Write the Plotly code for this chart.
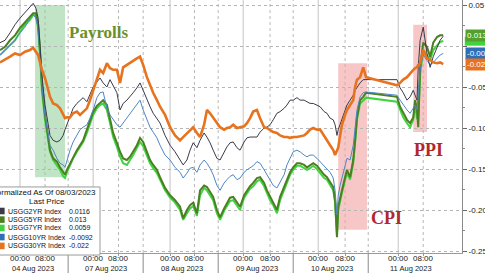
import plotly.graph_objects as go

# ---------------- data ----------------
# time axis: hours of the session timeline (session starts ~17:00 of the previous day)
hours = [0.6, 2.2, 3.8, 5.4, 7.0, 8.6, 10.2, 11.2, 12.1, 12.8,
         13.4, 14.0, 15.0, 16.0, 16.6, 17.6, 18.8, 19.8, 20.8, 21.4,
         22.0, 23.0, 24.0, 25.2, 26.2, 27.2, 28.4, 29.4, 30.4, 31.6,
         32.6, 33.6, 34.8, 35.8, 36.8, 38.0, 39.0, 40.0, 41.2, 42.2,
         43.2, 44.4, 45.4, 46.4, 47.6, 48.6, 49.6, 50.8, 51.8, 53.4,
         55.0, 56.6, 58.2, 59.2, 60.4, 61.4, 62.4, 63.6, 64.6, 65.9,
         66.8, 67.8, 68.8, 70.0, 71.0, 72.3, 73.2, 74.2, 75.2, 76.4,
         77.4, 78.7, 79.6, 80.6, 81.6, 82.8, 83.8, 85.1, 86.0, 87.0,
         88.0, 89.2, 90.2, 91.5, 92.4, 93.4, 94.4, 95.6, 96.6, 97.9,
         98.8, 99.8, 100.8, 102.0, 103.0, 104.3, 105.2, 106.2, 107.2, 107.8,
         108.4, 108.8, 109.4, 110.0, 111.0, 111.6, 112.6, 113.6, 114.2, 114.8,
         115.8, 116.8, 117.7, 127.6, 128.6, 129.6, 130.8, 131.8, 132.8, 133.4,
         134.0, 134.4, 135.0, 136.0, 137.2, 138.2, 139.2, 140.4, 141.4, 142.4]

usgg2yr = [0.004, 0.007, 0.016, 0.026, 0.034, 0.041, 0.049, 0.052, 0.046, 0.034,
           0.001, -0.035, -0.072, -0.096, -0.109, -0.115, -0.117, -0.115, -0.109, -0.102,
           -0.096, -0.084, -0.076, -0.070, -0.066, -0.063, -0.068, -0.060, -0.050, -0.044,
           -0.039, -0.045, -0.050, -0.041, -0.048, -0.057, -0.078, -0.070, -0.066, -0.062,
           -0.057, -0.051, -0.045, -0.054, -0.066, -0.074, -0.082, -0.088, -0.094, -0.109,
           -0.121, -0.129, -0.139, -0.145, -0.139, -0.127, -0.118, -0.124, -0.115, -0.106,
           -0.111, -0.118, -0.127, -0.137, -0.139, -0.129, -0.123, -0.118, -0.117, -0.124,
           -0.127, -0.117, -0.112, -0.111, -0.111, -0.111, -0.105, -0.100, -0.099, -0.096,
           -0.090, -0.082, -0.080, -0.076, -0.072, -0.066, -0.066, -0.063, -0.066, -0.066,
           -0.068, -0.070, -0.070, -0.072, -0.074, -0.080, -0.082, -0.088, -0.090, -0.096,
           -0.109, -0.102, -0.096, -0.088, -0.078, -0.072, -0.066, -0.060, -0.054, -0.050,
           -0.045, -0.041, -0.041, -0.041, -0.051, -0.057, -0.066, -0.062, -0.054, -0.060,
           -0.066, -0.026, 0.007, 0.023, -0.009, -0.026, -0.013, -0.002, 0.007, 0.012]

usgg5yr = [-0.005, -0.001, 0.007, 0.013, 0.022, 0.029, 0.035, 0.040, 0.040, 0.026,
           -0.005, -0.048, -0.084, -0.115, -0.127, -0.137, -0.141, -0.148, -0.154, -0.157,
           -0.151, -0.143, -0.135, -0.127, -0.121, -0.115, -0.102, -0.090, -0.080, -0.073,
           -0.070, -0.066, -0.072, -0.090, -0.106, -0.118, -0.129, -0.137, -0.139, -0.135,
           -0.129, -0.121, -0.112, -0.117, -0.129, -0.139, -0.145, -0.151, -0.160, -0.173,
           -0.182, -0.188, -0.196, -0.210, -0.200, -0.194, -0.191, -0.204, -0.176, -0.170,
           -0.172, -0.178, -0.184, -0.200, -0.209, -0.198, -0.191, -0.185, -0.184, -0.191,
           -0.196, -0.182, -0.176, -0.171, -0.167, -0.161, -0.160, -0.167, -0.176, -0.184,
           -0.190, -0.200, -0.184, -0.172, -0.163, -0.154, -0.148, -0.143, -0.143, -0.145,
           -0.148, -0.145, -0.143, -0.146, -0.151, -0.157, -0.160, -0.166, -0.172, -0.188,
           -0.233, -0.196, -0.184, -0.176, -0.160, -0.151, -0.160, -0.139, -0.115, -0.087,
           -0.066, -0.062, -0.057, -0.062, -0.074, -0.082, -0.090, -0.094, -0.087, -0.066,
           -0.078, -0.099, -0.026, 0.004, -0.001, -0.013, 0.004, 0.011, 0.013, 0.013]

usgg7yr = [-0.011, -0.005, 0.001, 0.007, 0.017, 0.026, 0.032, 0.038, 0.037, 0.022,
           -0.011, -0.054, -0.090, -0.117, -0.129, -0.139, -0.145, -0.151, -0.159, -0.161,
           -0.154, -0.145, -0.137, -0.129, -0.123, -0.117, -0.106, -0.094, -0.084, -0.076,
           -0.072, -0.070, -0.078, -0.094, -0.111, -0.123, -0.135, -0.143, -0.145, -0.139,
           -0.133, -0.124, -0.117, -0.122, -0.134, -0.143, -0.149, -0.155, -0.163, -0.176,
           -0.185, -0.191, -0.200, -0.212, -0.204, -0.198, -0.195, -0.207, -0.182, -0.173,
           -0.176, -0.182, -0.188, -0.204, -0.212, -0.201, -0.195, -0.189, -0.188, -0.195,
           -0.200, -0.185, -0.179, -0.174, -0.171, -0.165, -0.163, -0.171, -0.179, -0.188,
           -0.194, -0.204, -0.188, -0.176, -0.167, -0.157, -0.151, -0.146, -0.146, -0.149,
           -0.151, -0.149, -0.146, -0.150, -0.155, -0.161, -0.163, -0.170, -0.176, -0.191,
           -0.230, -0.200, -0.188, -0.179, -0.163, -0.155, -0.163, -0.143, -0.118, -0.090,
           -0.070, -0.066, -0.063, -0.068, -0.078, -0.087, -0.094, -0.099, -0.090, -0.072,
           -0.088, -0.090, -0.035, -0.005, -0.011, -0.017, -0.005, 0.001, 0.005, 0.006]

usgg10yr = [-0.011, -0.005, 0.001, 0.007, 0.016, 0.023, 0.034, 0.038, 0.034, 0.022,
            -0.011, -0.048, -0.084, -0.109, -0.121, -0.127, -0.137, -0.143, -0.145, -0.148,
            -0.139, -0.127, -0.117, -0.109, -0.102, -0.099, -0.096, -0.088, -0.078, -0.063,
            -0.057, -0.056, -0.076, -0.084, -0.090, -0.096, -0.099, -0.094, -0.088, -0.082,
            -0.078, -0.072, -0.066, -0.078, -0.090, -0.099, -0.105, -0.112, -0.121, -0.133,
            -0.139, -0.148, -0.154, -0.161, -0.155, -0.149, -0.148, -0.154, -0.145, -0.139,
            -0.143, -0.149, -0.157, -0.170, -0.176, -0.167, -0.163, -0.159, -0.157, -0.163,
            -0.161, -0.154, -0.151, -0.149, -0.146, -0.141, -0.143, -0.151, -0.157, -0.163,
            -0.170, -0.173, -0.166, -0.157, -0.145, -0.137, -0.129, -0.127, -0.129, -0.133,
            -0.135, -0.133, -0.133, -0.137, -0.141, -0.146, -0.149, -0.154, -0.161, -0.176,
            -0.206, -0.182, -0.170, -0.161, -0.145, -0.137, -0.139, -0.121, -0.100, -0.078,
            -0.062, -0.057, -0.056, -0.060, -0.066, -0.072, -0.078, -0.082, -0.076, -0.072,
            -0.078, -0.054, -0.029, -0.011, -0.017, -0.023, -0.020, -0.015, -0.011, -0.009]

usgg30yr = [-0.020, -0.017, -0.013, -0.009, -0.011, -0.007, -0.005, -0.002, -0.007, -0.011,
            -0.020, -0.029, -0.039, -0.054, -0.062, -0.070, -0.072, -0.076, -0.084, -0.088,
            -0.087, -0.087, -0.082, -0.080, -0.084, -0.080, -0.076, -0.066, -0.054, -0.041,
            -0.029, -0.033, -0.021, -0.027, -0.029, -0.029, -0.045, -0.026, -0.023, -0.020,
            -0.017, -0.015, -0.013, -0.023, -0.038, -0.048, -0.057, -0.066, -0.074, -0.084,
            -0.099, -0.109, -0.115, -0.111, -0.106, -0.102, -0.099, -0.106, -0.111, -0.096,
            -0.078, -0.082, -0.087, -0.093, -0.099, -0.102, -0.100, -0.099, -0.096, -0.100,
            -0.099, -0.098, -0.094, -0.088, -0.080, -0.078, -0.088, -0.099, -0.100, -0.102,
            -0.105, -0.106, -0.109, -0.111, -0.111, -0.112, -0.111, -0.111, -0.110, -0.109,
            -0.106, -0.102, -0.100, -0.102, -0.102, -0.109, -0.115, -0.121, -0.127, -0.133,
            -0.127, -0.124, -0.109, -0.096, -0.084, -0.078, -0.072, -0.066, -0.050, -0.041,
            -0.038, -0.026, -0.038, -0.048, -0.045, -0.041, -0.038, -0.033, -0.029, -0.027,
            -0.026, -0.023, -0.021, -0.005, -0.015, -0.017, -0.020, -0.021, -0.020, -0.022]

series_names = ["USGG2YR Index", "USGG5YR Index", "USGG7YR Index", "USGG10YR Index", "USGG30YR Index"]
last_prices = ["0.0116", "0.013", "0.0059", "-0.0092", "-0.022"]
last_values = [0.0116, 0.013, 0.0059, -0.0092, -0.022]

# x axis ticks (session hours)
midnight_hours = [7.0, 30.4, 55.0, 78.4, 102.4, 128.0]
eight_hours = [15.0, 38.5, 62.8, 87.0, 111.0, 136.0]
session_breaks = [22.4, 46.4, 70.4, 94.4, 118.4]
day_labels = ["04 Aug 2023", "07 Aug 2023", "08 Aug 2023", "09 Aug 2023", "10 Aug 2023", "11 Aug 2023"]

# right axis ticks (the 0.00 label is hidden behind the value tags in the original)
y_ticks = [0.05, 0.0, -0.05, -0.10, -0.15, -0.20, -0.25]
y_ticktext = ["0.05", "", "-0.05", "-0.10", "-0.15", "-0.20", "-0.25"]

# event windows: label, start hour, end hour, low, high
event_names = ["Payrolls", "CPI", "PPI"]
event_start = [11.8, 108.8, 132.8]
event_end = [21.4, 118.0, 137.2]
event_low = [-0.160, -0.224, -0.105]
event_high = [0.050, -0.021, 0.026]

# ---------------- style ----------------
colors = ["#3a3a4a", "#4b7f22", "#3fd43f", "#4f86c6", "#e8731e"]
widths = [1, 2, 2, 1, 2.6]
draw_order = [2, 1, 3, 0, 4]
series = [usgg2yr, usgg5yr, usgg7yr, usgg10yr, usgg30yr]
FONT = "Liberation Sans, Arial, sans-serif"

fig = go.Figure()
for i in draw_order:
    fig.add_trace(go.Scatter(x=hours, y=series[i], mode="lines", name=series_names[i],
                             line=dict(color=colors[i], width=widths[i]), showlegend=False))

shapes = []
for h in midnight_hours:
    shapes.append(dict(type="line", xref="x", yref="paper", x0=h, x1=h, y0=0, y1=1,
                       line=dict(color="#c4c4c4", width=1), layer="below"))
for h in eight_hours:
    shapes.append(dict(type="line", xref="x", yref="paper", x0=h, x1=h, y0=0, y1=1,
                       line=dict(color="#b8b8b8", width=1, dash="dot"), layer="below"))
for h in session_breaks:
    shapes.append(dict(type="line", xref="x", yref="paper", x0=h, x1=h, y0=0, y1=1,
                       line=dict(color="#b8b8b8", width=1, dash="dot"), layer="below"))
    shapes.append(dict(type="line", xref="x", yref="paper", x0=h, x1=h, y0=-0.08, y1=0,
                       line=dict(color="#8a8a8a", width=1)))

event_fill = ["rgba(140,205,150,0.55)", "rgba(242,160,160,0.6)", "rgba(242,160,160,0.6)"]
for k in range(3):
    shapes.append(dict(type="rect", xref="x", yref="y", x0=event_start[k], x1=event_end[k],
                       y0=event_low[k], y1=event_high[k], fillcolor=event_fill[k],
                       line=dict(width=0), layer="below"))

# partly hidden 7YR value tag (bright green), drawn beneath the 5YR tag
shapes.append(dict(type="rect", xref="paper", yref="y", x0=1.006, x1=1.06,
                   y0=last_values[2] - 0.0055, y1=last_values[2] + 0.0055,
                   fillcolor="#3fd43f", line=dict(width=0), layer="above"))

# legend box
shapes.append(dict(type="rect", xref="paper", yref="paper", x0=-0.04, x1=0.2165, y0=-0.008, y1=0.261,
                   fillcolor="white", line=dict(color="#9a9a9a", width=1), layer="above"))
legend_colors = ["#3a3a4a", "#4b7f22", "#3fd43f", "#2f6fb8", "#e8731e"]
row_y = [0.166, 0.132, 0.099, 0.063, 0.028]
annotations = []
for k in range(5):
    shapes.append(dict(type="rect", xref="paper", yref="paper", x0=-0.006, x1=0.010,
                       y0=row_y[k] - 0.013, y1=row_y[k] + 0.013, fillcolor=legend_colors[k],
                       line=dict(width=0), layer="above"))
    annotations.append(dict(xref="paper", yref="paper", x=0.013, y=row_y[k], xanchor="left",
                            yanchor="middle", text=series_names[k], showarrow=False,
                            font=dict(family=FONT, size=7, color="#111")))
    annotations.append(dict(xref="paper", yref="paper", x=0.144, y=row_y[k], xanchor="left",
                            yanchor="middle", text=last_prices[k], showarrow=False,
                            font=dict(family=FONT, size=7, color="#111")))
annotations.append(dict(xref="paper", yref="paper", x=-0.024, y=0.241, xanchor="left", yanchor="middle",
                        text="Normalized As Of 08/03/2023", showarrow=False,
                        font=dict(family=FONT, size=8, color="#111")))
annotations.append(dict(xref="paper", yref="paper", x=0.102, y=0.205, xanchor="center", yanchor="middle",
                        text="Last Price", showarrow=False,
                        font=dict(family=FONT, size=8, color="#111")))

# x tick labels and date labels
for k in range(6):
    annotations.append(dict(xref="x", yref="paper", x=midnight_hours[k], y=-0.022,
                            xanchor="center", yanchor="middle", text="00:00", showarrow=False,
                            font=dict(family=FONT, size=8, color="#222")))
    annotations.append(dict(xref="x", yref="paper", x=eight_hours[k], y=-0.022,
                            xanchor="center", yanchor="middle", text="08:00", showarrow=False,
                            font=dict(family=FONT, size=8, color="#222")))
    annotations.append(dict(xref="x", yref="paper", x=(midnight_hours[k] + eight_hours[k]) / 2, y=-0.06,
                            xanchor="center", yanchor="middle", text=day_labels[k], showarrow=False,
                            font=dict(family=FONT, size=7.5, color="#222")))

# event labels
event_label_x = [32.3, 124.4, 137.6]
event_label_y = [0.017, -0.210, -0.127]
event_color = ["#6b8f2a", "#b0282d", "#b0282d"]
event_size = [17, 18, 18]
for k in range(3):
    annotations.append(dict(xref="x", yref="y", x=event_label_x[k], y=event_label_y[k],
                            xanchor="center", yanchor="middle", text="<b>%s</b>" % event_names[k],
                            showarrow=False,
                            font=dict(family="Liberation Serif, Times New Roman, serif",
                                      size=event_size[k], color=event_color[k])))

# value tags on right axis
tag_order = [1, 3, 4]
tag_bg = {1: "#55a02a", 3: "#2f6fb8", 4: "#e8731e"}
for k in tag_order:
    annotations.append(dict(xref="paper", yref="y", x=1.0, y=last_values[k], xanchor="left",
                            yanchor="middle", xshift=3, text=last_prices[k], showarrow=False,
                            bgcolor=tag_bg[k], borderpad=1,
                            font=dict(family=FONT, size=8, color="white")))

fig.update_layout(
    width=485, height=273,
    margin=dict(l=0, r=23, t=0, b=20),
    paper_bgcolor="white", plot_bgcolor="white",
    shapes=shapes, annotations=annotations,
    xaxis=dict(range=[0.6, 148.4], tickmode="array",
               tickvals=midnight_hours + eight_hours,
               showticklabels=False,
               showgrid=False, zeroline=False, showline=True, linecolor="#9a9a9a",
               ticks="outside", ticklen=2, tickcolor="#9a9a9a",
               automargin=False),
    yaxis=dict(range=[-0.2524, 0.0561], side="right", tickmode="array",
               tickvals=y_ticks, ticktext=y_ticktext,
               showgrid=True, gridcolor="#b5b5b5", griddash="dot", gridwidth=1,
               zeroline=False, showline=True, linecolor="#8a8a8a",
               ticks="outside", ticklen=4, tickcolor="#666",
               minor=dict(tickmode="linear", tick0=0, dtick=0.025, ticks="outside",
                          ticklen=2, tickcolor="#888", showgrid=False),
               tickfont=dict(family=FONT, size=8, color="#222"),
               automargin=False),
)

fig.write_html("out.html")
